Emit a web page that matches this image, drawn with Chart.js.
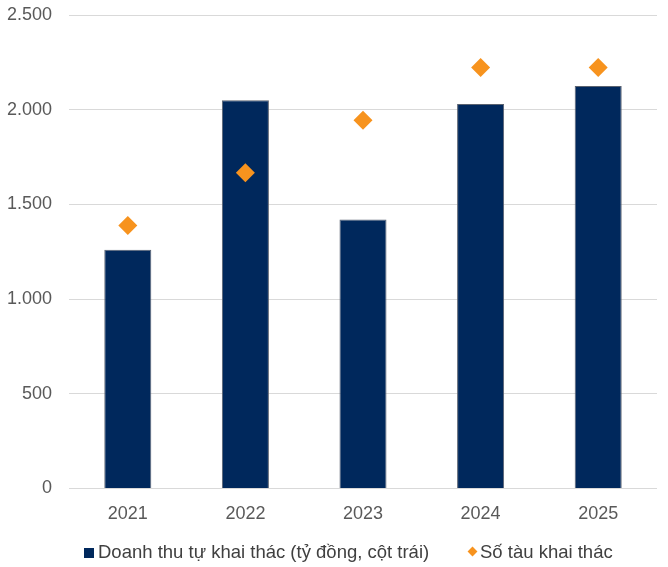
<!DOCTYPE html>
<html>
<head>
<meta charset="utf-8">
<script src="https://cdn.jsdelivr.net/npm/chart.js@4.4.1/dist/chart.umd.min.js"></script>
<style>
  html, body { margin: 0; padding: 0; background: #fff; }
  #wrap { position: relative; width: 668px; height: 567px; }
  .legend { position: absolute; top: 540px; height: 24px; line-height: 24px;
            font-family: 'Liberation Sans', Arial, sans-serif; font-size: 18.5px; color: #404040; white-space: nowrap; }
  .sw { position: absolute; }
</style>
</head>
<body>
<div id="wrap">
  <canvas id="myChart" width="668" height="567"></canvas>
  <div id="legend"></div>
</div>
<script>
const years = ['2021', '2022', '2023', '2024', '2025'];
const revenue = [1260, 2050, 1420, 2030, 2125];   // tỷ đồng, left axis
const ships = [5, 6, 7, 8, 8];                     // hidden right axis
const yTicks = [0, 500, 1000, 1500, 2000, 2500];
const seriesNames = ['Doanh thu tự khai thác (tỷ đồng, cột trái)', 'Số tàu khai thác'];
const colors = ['#00285C', '#F7931E'];

const tickFont = { family: 'Liberation Sans, Arial, sans-serif', size: 18 };

function formatVN(v) {
  return String(v).replace(/\B(?=(\d{3})+(?!\d))/g, '.');
}

function renderLegend() {
  const el = document.getElementById('legend');
  el.innerHTML =
    `<div class="legend" style="left:0">
       <span class="sw" style="left:84px;top:8px;width:10px;height:10px;background:${colors[0]}"></span>
       <span style="position:absolute;left:98px">${seriesNames[0]}</span>
       <span class="sw" style="left:468.5px;top:7.5px;width:7px;height:7px;background:${colors[1]};transform:rotate(45deg)"></span>
       <span style="position:absolute;left:480px">${seriesNames[1]}</span>
     </div>`;
}

const ctx = document.getElementById('myChart').getContext('2d');
new Chart(ctx, {
  data: {
    labels: years,
    datasets: [
      {
        type: 'bar',
        label: seriesNames[0],
        data: revenue,
        backgroundColor: colors[0],
        borderColor: '#5a6270',
        borderWidth: 1,
        barPercentage: 0.4,
        categoryPercentage: 1,
        yAxisID: 'y',
        order: 1
      },
      {
        type: 'line',
        label: seriesNames[1],
        data: ships,
        showLine: false,
        pointStyle: 'rectRot',
        pointRadius: 9.5,
        pointHoverRadius: 9.5,
        backgroundColor: colors[1],
        borderColor: colors[1],
        borderWidth: 0,
        yAxisID: 'y1',
        order: 0
      }
    ]
  },
  options: {
    responsive: false,
    animation: false,
    layout: { autoPadding: false, padding: { left: 0, right: 11, top: 15, bottom: 27 } },
    scales: {
      x: {
        grid: { display: false, drawTicks: false },
        border: { display: false },
        ticks: { font: tickFont, color: '#595959', padding: 15 }
      },
      y: {
        min: 0,
        max: 2500,
        afterBuildTicks: axis => { axis.ticks = yTicks.map(v => ({ value: v })); },
        afterFit: axis => { axis.width = 69; axis.paddingTop = 0; axis.paddingBottom = 0; },
        grid: { color: '#d9d9d9', lineWidth: 1, drawTicks: false },
        border: { display: false },
        ticks: { font: tickFont, color: '#595959', padding: 17, callback: v => formatVN(v) }
      },
      y1: {
        display: false,
        min: 0,
        max: 9,
        position: 'right',
        grid: { display: false }
      }
    },
    plugins: {
      tooltip: { enabled: false },
      legend: { display: false }
    }
  }
});
renderLegend();
</script>
</body>
</html>
